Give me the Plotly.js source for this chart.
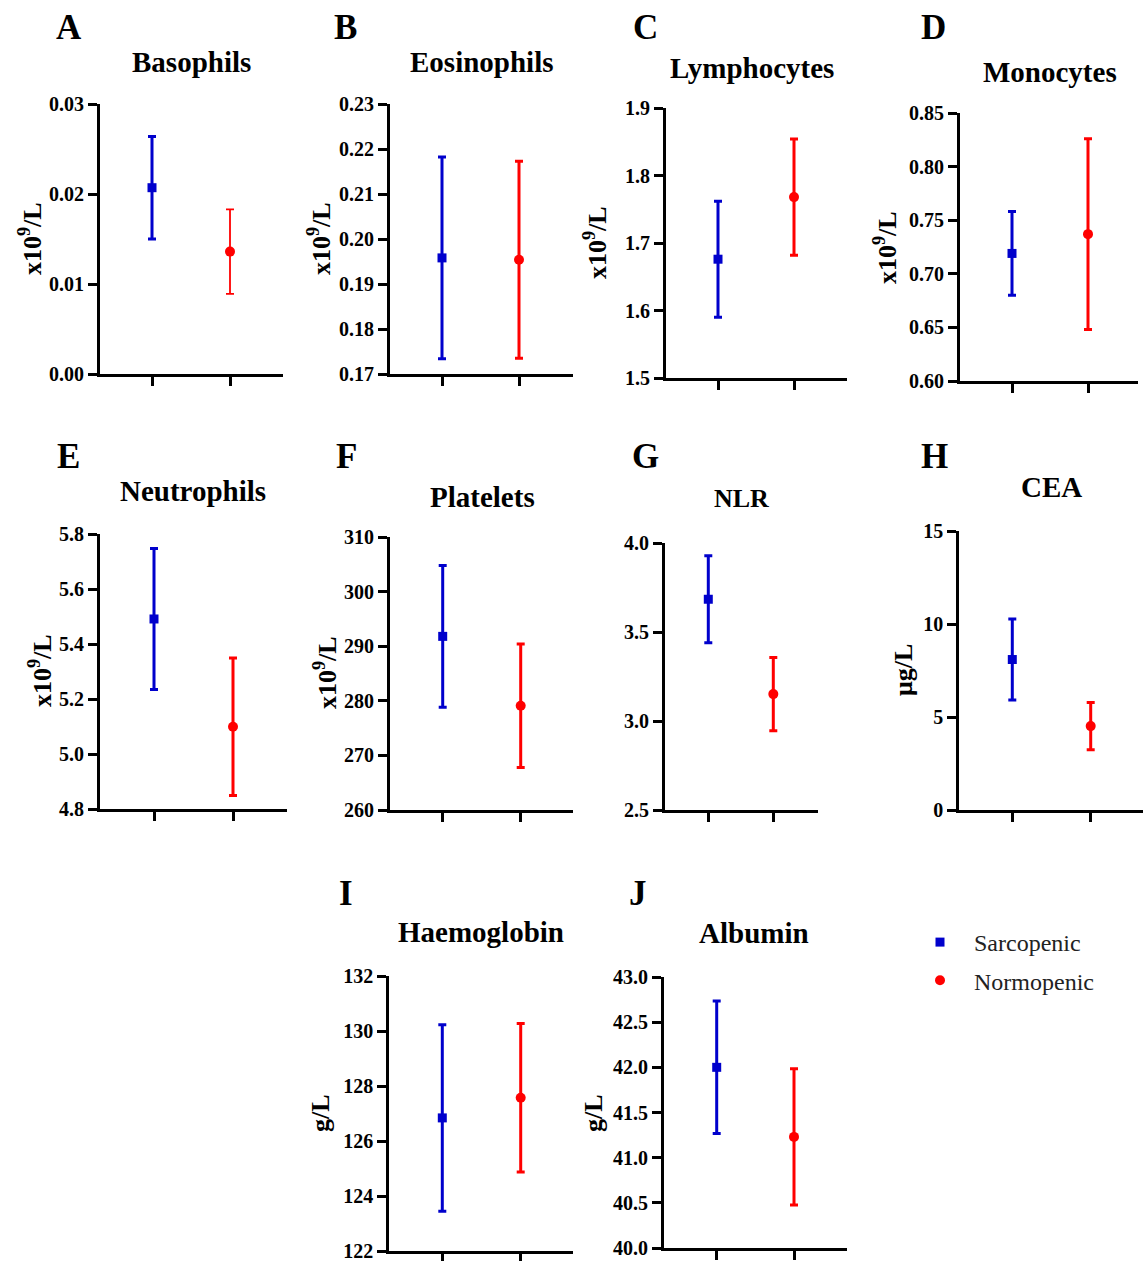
<!DOCTYPE html>
<html>
<head>
<meta charset="utf-8">
<script src="https://cdn.plot.ly/plotly-3.0.1.min.js"></script>
<style>html,body{margin:0;padding:0;background:#fff;}#chart{width:1146px;height:1261px;}</style>
</head>
<body>
<div id="chart"></div>
<script>
// ---- data ----
const groups = ['Sarcopenic', 'Normopenic'];
const letters = ['A','B','C','D','E','F','G','H','I','J'];
const titles = ['Basophils','Eosinophils','Lymphocytes','Monocytes','Neutrophils','Platelets','NLR','CEA','Haemoglobin','Albumin'];
const units = ['x10<sup>9</sup>/L','x10<sup>9</sup>/L','x10<sup>9</sup>/L','x10<sup>9</sup>/L','x10<sup>9</sup>/L','x10<sup>9</sup>/L','','μg/L','g/L','g/L'];
const sarcMean = [0.0207, 0.1958, 1.676, 0.719, 5.491, 291.8, 3.684, 8.09, 126.84, 42.00];
const sarcErr  = [0.0057, 0.0224, 0.086, 0.039, 0.256, 13.0, 0.245, 2.18, 3.39, 0.733];
const normMean = [0.0136, 0.1954, 1.768, 0.737, 5.099, 279.1, 3.151, 4.51, 127.57, 41.23];
const normErr  = [0.0047, 0.0219, 0.086, 0.089, 0.250, 11.3, 0.206, 1.27, 2.70, 0.755];
const yMin  = [0.00, 0.17, 1.5, 0.60, 4.8, 260, 2.5, 0, 122, 40.0];
const yMax  = [0.03, 0.23, 1.9, 0.85, 5.8, 310, 4.0, 15, 132, 43.0];
const yStep = [0.01, 0.01, 0.1, 0.05, 0.2, 10, 0.5, 5, 2, 0.5];
const yFmt  = ['.2f','.2f','.1f','.2f','.1f','d','.1f','d','d','.1f'];

// ---- geometry (pixels) ----
const W = 1146, H = 1261;
// [axisLeft, axisRight, tick0, tick1, top, bottom]
const geo = [
  [100, 283, 152, 230, 104, 374],
  [390, 573, 442, 519, 104, 374],
  [666, 847, 718, 794, 108, 378],
  [960, 1138, 1012, 1088, 113, 381],
  [100, 287, 154, 233, 534, 809],
  [390, 573, 442.7, 520.7, 537, 810],
  [665, 818, 708.3, 773.3, 543, 810],
  [959.3, 1143, 1012.3, 1090.7, 531, 810],
  [389.3, 573, 442.3, 520.7, 976, 1251],
  [664, 846.7, 716.7, 794, 977, 1248]
];
const titlePos = [[191,62],[481,62],[752,68],[1050,72],[193,491],[483,497],[741,499],[1051,487],[481,932],[754,933]];
const letterPos = [[69,27],[345,27],[646,27],[933,27],[68,456],[346,456],[645,456],[934,456],[346,893],[638,893]];
const unitPos = [[30,239],[319,239],[596,243],[886,247],[40,671],[325,673],[0,0],[903,670],[320,1113],[593,1113]];

const FONT = 'Liberation Serif, Times New Roman, serif';
const BLUE = '#0000CC', RED = '#FF0000';

const traces = [];
const layout = {
  width: W, height: H,
  margin: {l:0, r:0, t:0, b:0},
  paper_bgcolor: '#fff', plot_bgcolor: 'rgba(0,0,0,0)',
  showlegend: true,
  legend: {
    x: 906/W, y: 1 - 920/H, xanchor: 'left', yanchor: 'top',
    font: {family: FONT, size: 24, color: '#222'},
    bgcolor: 'rgba(0,0,0,0)', tracegroupgap: 4, itemwidth: 58
  },
  annotations: []
};

for (let i = 0; i < titles.length; i++) {
  const g = geo[i];
  const unit = g[3] - g[2];
  const xr = [(g[0] - g[2]) / unit, (g[1] - g[2]) / unit];
  const ax = i === 0 ? '' : String(i + 1);
  layout['xaxis' + ax] = {
    domain: [g[0] / W, g[1] / W],
    anchor: 'y' + ax,
    type: 'category',
    range: xr,
    showline: true, linewidth: 3, linecolor: '#000',
    ticks: 'outside', ticklen: 9, tickwidth: 3, tickcolor: '#000',
    showticklabels: false, showgrid: false, zeroline: false, fixedrange: true
  };
  layout['yaxis' + ax] = {
    domain: [1 - g[5] / H, 1 - g[4] / H],
    anchor: 'x' + ax,
    range: [yMin[i], yMax[i]],
    tick0: yMin[i], dtick: yStep[i], tickformat: yFmt[i],
    showline: true, linewidth: 3, linecolor: '#000',
    ticks: 'outside', ticklen: 9, tickwidth: 3, tickcolor: '#000',
    tickfont: {family: FONT, size: 20, color: '#000', weight: 700},
    ticklabeloverflow: 'allow',
    showgrid: false, zeroline: false, fixedrange: true
  };
  traces.push({
    type: 'scatter', mode: 'markers',
    x: [groups[0]], y: [sarcMean[i]],
    xaxis: 'x' + ax, yaxis: 'y' + ax,
    name: groups[0], legendgroup: 'g0', showlegend: i === 0, legendrank: 1,
    marker: {symbol: 'square', size: 9, color: BLUE},
    error_y: {type: 'data', array: [sarcErr[i]], visible: true, color: BLUE, thickness: 3, width: 4},
    cliponaxis: false
  });
  traces.push({
    type: 'scatter', mode: 'markers',
    x: [groups[1]], y: [normMean[i]],
    xaxis: 'x' + ax, yaxis: 'y' + ax,
    name: groups[1], legendgroup: 'g1', showlegend: i === 0, legendrank: 2,
    marker: {symbol: 'circle', size: 10, color: RED},
    error_y: {type: 'data', array: [normErr[i]], visible: true, color: RED, thickness: i === 0 ? 1.8 : 3, width: 4},
    cliponaxis: false
  });
  layout.annotations.push({
    text: titles[i], xref: 'paper', yref: 'paper',
    x: titlePos[i][0] / W, y: 1 - titlePos[i][1] / H,
    xanchor: 'center', yanchor: 'middle', showarrow: false,
    font: {family: FONT, size: i === 6 ? 26 : 29, color: '#000', weight: 700}
  });
  layout.annotations.push({
    text: letters[i], xref: 'paper', yref: 'paper',
    x: letterPos[i][0] / W, y: 1 - letterPos[i][1] / H,
    xanchor: 'center', yanchor: 'middle', showarrow: false,
    font: {family: FONT, size: 35, color: '#000', weight: 700}
  });
  if (units[i]) {
    layout.annotations.push({
      text: units[i], xref: 'paper', yref: 'paper',
      x: unitPos[i][0] / W, y: 1 - unitPos[i][1] / H,
      xanchor: 'center', yanchor: 'middle', showarrow: false, textangle: -90,
      font: {family: FONT, size: 26, color: '#000', weight: 700}
    });
  }
}

Plotly.newPlot('chart', traces, layout, {displayModeBar: false, staticPlot: true});
</script>
</body>
</html>
